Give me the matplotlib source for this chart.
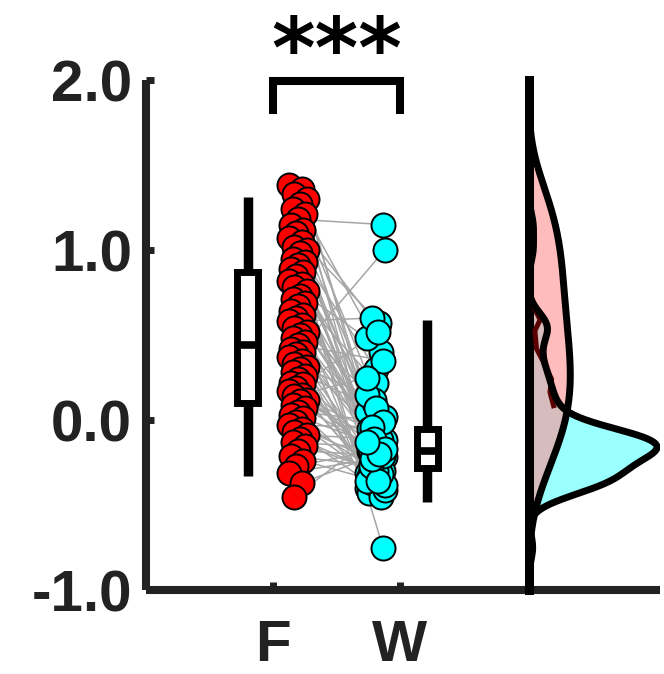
import numpy as np
import matplotlib
matplotlib.use('Agg')
import matplotlib.pyplot as plt

# paired values per subject
F_VALUES = [
    1.38, 1.36, 1.33, 1.30, 1.27, 1.24, 1.21, 1.18, 1.15, 1.12,
    1.10, 1.07, 1.05, 1.02, 1.00, 0.98, 0.95, 0.93, 0.91, 0.89,
    0.87, 0.85, 0.82, 0.80, 0.78, 0.76, 0.73, 0.71, 0.69, 0.67,
    0.64, 0.62, 0.60, 0.58, 0.56, 0.54, 0.52, 0.50, 0.48, 0.46,
    0.44, 0.42, 0.40, 0.39, 0.37, 0.35, 0.33, 0.31, 0.30, 0.28,
    0.26, 0.24, 0.22, 0.21, 0.19, 0.17, 0.15, 0.14, 0.12, 0.11,
    0.09, 0.07, 0.05, 0.03, 0.01, -0.01, -0.03, -0.05, -0.07, -0.09,
    -0.11, -0.13, -0.15, -0.18, -0.21, -0.24, -0.27, -0.31, -0.37, -0.45,
]
W_VALUES = [
    0.20, -0.12, 0.05, -0.11, 0.40, -0.18, -0.33, 1.15, -0.08, 0.55,
    -0.22, -0.14, 0.57, -0.40, 0.10, -0.10, -0.05, 0.30, -0.75, -0.19,
    -0.29, 0.02, -0.15, -0.39, 0.48, -0.09, -0.10, -0.35, 0.22, -0.16,
    -0.42, -0.03, -0.12, 0.60, -0.13, -0.31, 0.12, -0.20, -0.43, -0.07,
    0.35, -0.26, -0.17, 1.00, -0.37, -0.09, 0.15, -0.24, -0.45, -0.14,
    0.07, -0.30, -0.19, 0.52, -0.41, -0.06, -0.22, 0.25, -0.34, -0.12,
    -0.33, -0.18, -0.01, -0.28, -0.15, -0.38, -0.04, -0.25, -0.36, -0.11,
    -0.32, -0.16, -0.30, -0.21, -0.27, -0.36, -0.17, -0.23, -0.20, -0.13,
]
F_BOX = dict(whislo=-0.33, q1=0.10, med=0.44, q3=0.87, whishi=1.31)
W_BOX = dict(whislo=-0.48, q1=-0.28, med=-0.18, q3=-0.05, whishi=0.59)
GROUP_LABELS = ['F', 'W']
Y_TICKS = [-1.0, 0.0, 1.0, 2.0]
Y_TICK_LABELS = ['-1.0', '0.0', '1.0', '2.0']
SIG_LABEL = '***'
# dark trace inside the F density (value, density relative to W peak)
WAVE_Y = [0.75, 0.67, 0.59, 0.525, 0.42, 0.34, 0.24, 0.165, 0.084]
WAVE_D = [0.0, 0.037, 0.09, 0.05, 0.062, 0.117, 0.18, 0.167, 0.195]

RED = '#ff0000'
CYAN = '#00ffff'
AXIS_COLOR = '#222222'
FIG_W, FIG_H = 664, 674

plt.rcParams['font.family'] = ['Liberation Sans', 'DejaVu Sans']
plt.rcParams['font.weight'] = 'bold'


def kde(values, grid, bw):
    v = np.asarray(values, dtype=float)[:, None]
    z = (grid[None, :] - v) / bw
    return np.exp(-0.5 * z ** 2).sum(axis=0) / (len(values) * bw * np.sqrt(2 * np.pi))


def px_box(left, right, top, bottom):
    return [left / FIG_W, (FIG_H - bottom) / FIG_H, (right - left) / FIG_W, (bottom - top) / FIG_H]


fig = plt.figure(figsize=(FIG_W / 100, FIG_H / 100), dpi=100)
ax = fig.add_axes(px_box(146, 660, 80, 590))
ax.set_xlim(0, 514 / 127)
ax.set_ylim(-1.0, 2.0)

n = len(F_VALUES)
jitter = np.array([((i * 7) % 11 - 5) / 5 * 0.07 for i in range(n)])
xf = 1.197 + jitter
xw = 1.81 + jitter[::-1]

for x0, x1, y0, y1 in zip(xf, xw, F_VALUES, W_VALUES):
    ax.plot([x0, x1], [y0, y1], color='#a6a6a6', lw=1.1, zorder=1)

ax.scatter(xf, F_VALUES, s=300, c=RED, edgecolors='black', linewidths=1.4, zorder=3)
ax.scatter(xw, W_VALUES, s=300, c=CYAN, edgecolors='black', linewidths=1.4, zorder=3)

F_BOX['label'] = GROUP_LABELS[0]
W_BOX['label'] = GROUP_LABELS[1]
ax.bxp([F_BOX, W_BOX], positions=[0.80, 2.213], widths=0.165,
       showfliers=False, showcaps=False, patch_artist=True,
       boxprops=dict(facecolor='white', edgecolor='black', linewidth=5),
       whiskerprops=dict(color='black', linewidth=6.8, solid_capstyle='butt'),
       medianprops=dict(color='black', linewidth=5.5),
       manage_ticks=False, zorder=2)

# significance bracket
ax.plot([1, 1, 2, 2], [1.8, 1.995, 1.995, 1.8], color='black', lw=5.8,
        solid_capstyle='butt', solid_joinstyle='miter', clip_on=False)
ax.text(1.5, 2.02, SIG_LABEL, ha='center', va='baseline', fontsize=60,
        fontweight='bold', family='DejaVu Sans', color='black', clip_on=False)

for side in ['top', 'right']:
    ax.spines[side].set_visible(False)
for side in ['left', 'bottom']:
    ax.spines[side].set_linewidth(5.8)
    ax.spines[side].set_color(AXIS_COLOR)
    ax.spines[side].set_capstyle('butt')

ax.set_xticks([1, 2])
ax.set_xticklabels(GROUP_LABELS)
ax.set_yticks(Y_TICKS)
ax.set_yticklabels(Y_TICK_LABELS)
ax.tick_params(direction='in', length=6, width=5, color=AXIS_COLOR,
               labelcolor=AXIS_COLOR, labelsize=42)
ax.tick_params(axis='x', pad=21)
ax.tick_params(axis='y', pad=10)
ax.patch.set_visible(False)

# density panel on the right
dax = fig.add_axes(px_box(528.5, 660, 80, 590))
grid = np.linspace(-1.0, 2.0, 600)
dens_f = kde(F_VALUES, grid, 0.21)
dens_w = kde(W_VALUES, grid, 0.075)
scale = dens_w.max()
dens_f = dens_f / scale
dens_w = dens_w / scale

dax.fill_betweenx(grid, 0, dens_w, color=CYAN, alpha=0.4, lw=0, zorder=1)
dax.fill_betweenx(grid, 0, dens_f, color='#ff9090', alpha=0.6, lw=0, zorder=2)
dax.plot(WAVE_D, WAVE_Y, color='#5a0000', lw=3.6, zorder=3)
dax.plot(dens_w, grid, color='black', lw=5, zorder=4)
dax.plot(dens_f, grid, color='black', lw=5, zorder=4)

dax.set_xlim(0, 131.5 / 128.5)
dax.set_ylim(-1.0, 2.0)
dax.patch.set_visible(False)
for side in ['top', 'right', 'bottom']:
    dax.spines[side].set_visible(False)
dax.spines['left'].set_linewidth(6.5)
dax.spines['left'].set_color('black')
dax.set_xticks([])
dax.set_yticks([])

fig.savefig('out.png', dpi=100)
